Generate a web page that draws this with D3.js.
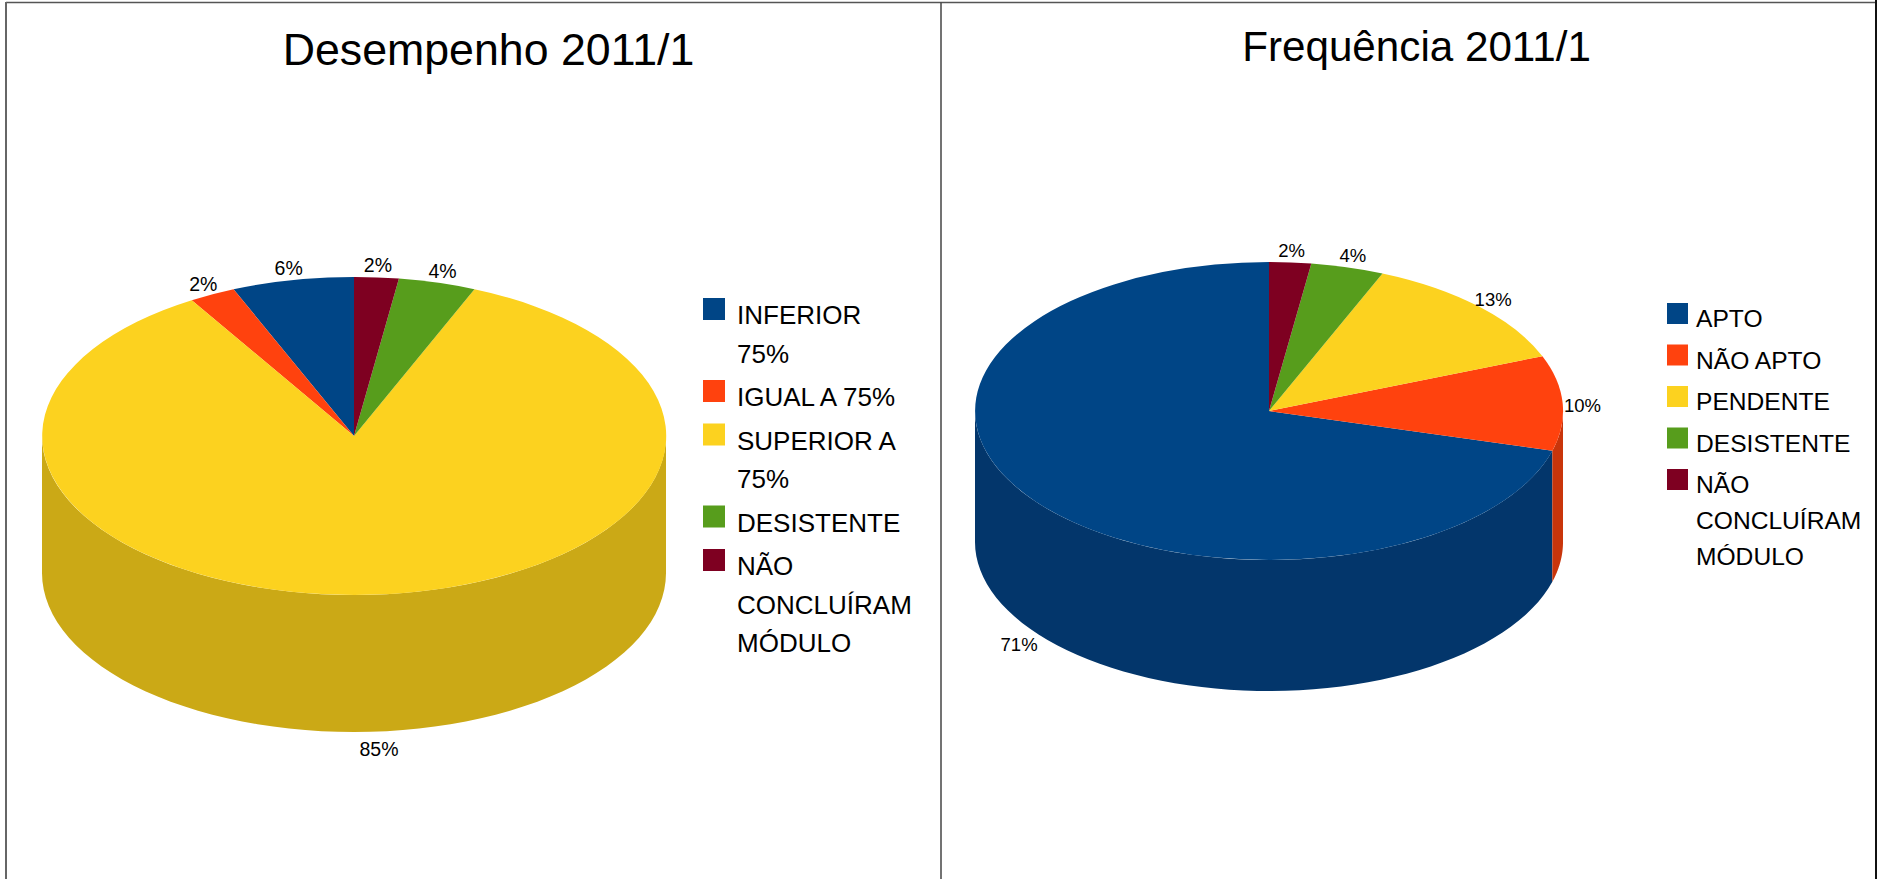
<!DOCTYPE html>
<html>
<head>
<meta charset="utf-8">
<script src="https://cdn.jsdelivr.net/npm/d3@7"></script>
<style>
  html, body { margin: 0; background: #fff; }
  svg { display: block; font-family: "Liberation Sans", Arial, sans-serif; fill: #000; }
</style>
</head>
<body>
<svg id="chart" width="1881" height="879"></svg>
<script>
// In legend order (LibreOffice draws them counter-clockwise from 12 o'clock)
const desempenhoCategories = ['INFERIOR 75%', 'IGUAL A 75%', 'SUPERIOR A 75%', 'DESISTENTE', 'NÃO CONCLUÍRAM MÓDULO'];
const desempenhoValues = [6.3, 2.4, 85, 4, 2.3];
const frequenciaCategories = ['APTO', 'NÃO APTO', 'PENDENTE', 'DESISTENTE', 'NÃO CONCLUÍRAM MÓDULO'];
const frequenciaValues = [70.7, 10.3, 12.7, 4, 2.3];

const topColors = ['#004586', '#ff420e', '#fcd21f', '#579d1c', '#7e0021'];
const sideColors = ['#03366b', '#c9350b', '#cba916', '#457d16', '#64001a'];

const svg = d3.select('#chart');

// frame around the two charts
const frameLines = [
    {x1: 6, y1: 2.5, x2: 1876, y2: 2.5, color: '#555', w: 1.5},
    {x1: 6, y1: 2, x2: 6, y2: 879, color: '#666', w: 2},
    {x1: 941, y1: 2.5, x2: 941, y2: 879, color: '#444', w: 1.5},
    {x1: 1876, y1: 0, x2: 1876, y2: 879, color: '#111', w: 2}
];
svg.selectAll('.frame')
    .data(frameLines)
    .enter().append('line')
    .attr('class', 'frame')
    .attr('x1', d => d.x1).attr('y1', d => d.y1)
    .attr('x2', d => d.x2).attr('y2', d => d.y2)
    .attr('stroke', d => d.color)
    .attr('stroke-width', d => d.w);

function drawPie(cfg) {
    const g = svg.append('g');
    const slices = d3.pie().sort(null).startAngle(0).endAngle(-2 * Math.PI)(cfg.values);

    g.append('text')
        .attr('x', cfg.titleX)
        .attr('y', cfg.titleY)
        .attr('text-anchor', 'middle')
        .style('font-size', cfg.titleSize + 'px')
        .text(cfg.title);

    // side wall, only the front half of the cylinder can be seen
    const px = a => cfg.cx + cfg.rx * Math.sin(a);
    const py = a => cfg.cy - cfg.ry * Math.cos(a);
    const wall = d3.line();
    slices.forEach((s, i) => {
        // angles run negative here, front half is -PI/2 to -3PI/2
        const from = Math.min(s.startAngle, -Math.PI / 2);
        const to = Math.max(s.endAngle, -3 * Math.PI / 2);
        if (from <= to) return;
        const steps = d3.range(0, 61).map(k => from + (to - from) * k / 60);
        const pts = steps.map(a => [px(a), py(a)])
            .concat(steps.slice().reverse().map(a => [px(a), py(a) + cfg.depth]));
        g.append('path')
            .attr('d', wall(pts) + 'Z')
            .attr('fill', sideColors[i]);
    });

    // top face: a unit arc squashed to the ellipse
    const arc = d3.arc().innerRadius(0).outerRadius(1);
    g.append('g')
        .attr('transform', `translate(${cfg.cx},${cfg.cy}) scale(${cfg.rx},${cfg.ry})`)
        .selectAll('path')
        .data(slices)
        .enter().append('path')
        .attr('d', arc)
        .attr('fill', (d, i) => topColors[i]);

    // percentage labels outside the rim
    g.selectAll('.pct')
        .data(slices)
        .enter().append('text')
        .attr('class', 'pct')
        .attr('text-anchor', 'middle')
        .attr('dy', '0.35em')
        .attr('x', d => {
            const mid = (d.startAngle + d.endAngle) / 2;
            return cfg.cx + (cfg.rx + 20) * Math.sin(mid);
        })
        .attr('y', d => {
            const mid = (d.startAngle + d.endAngle) / 2;
            const front = Math.cos(mid) < 0;
            return cfg.cy + 3 - (cfg.ry + 15) * Math.cos(mid) + (front ? cfg.depth : 0);
        })
        .style('font-size', cfg.labelSize + 'px')
        .text(d => Math.round(d.value) + '%');

    // legend, the long names wrap as in the original
    let y = cfg.legendY;
    cfg.legendLines.forEach((lines, i) => {
        g.append('rect')
            .attr('x', cfg.legendX)
            .attr('y', y - cfg.swatchDrop)
            .attr('width', cfg.swatch)
            .attr('height', cfg.swatch)
            .attr('fill', topColors[i]);
        lines.forEach((line, j) => {
            g.append('text')
                .attr('x', cfg.legendX + cfg.textGap)
                .attr('y', y + j * cfg.lineHeight)
                .style('font-size', cfg.legendSize + 'px')
                .text(line);
        });
        y += (lines.length - 1) * cfg.lineHeight + cfg.itemGap;
    });
}

drawPie({
    title: 'Desempenho 2011/1', titleX: 488.5, titleY: 65, titleSize: 44.7,
    values: desempenhoValues,
    cx: 354, cy: 436, rx: 312, ry: 159, depth: 137,
    labelSize: 19.5,
    legendX: 703, legendY: 324, swatch: 22, swatchDrop: 26, textGap: 34,
    legendSize: 26, lineHeight: 38.5, itemGap: 43.5,
    legendLines: [['INFERIOR', '75%'], ['IGUAL A 75%'], ['SUPERIOR A', '75%'], ['DESISTENTE'], ['NÃO', 'CONCLUÍRAM', 'MÓDULO']]
});

drawPie({
    title: 'Frequência 2011/1', titleX: 1416.5, titleY: 61, titleSize: 42.2,
    values: frequenciaValues,
    cx: 1269, cy: 411, rx: 294, ry: 149, depth: 131,
    labelSize: 18.5,
    legendX: 1667, legendY: 327, swatch: 21, swatchDrop: 24, textGap: 29,
    legendSize: 24.6, lineHeight: 36, itemGap: 41.5,
    legendLines: [['APTO'], ['NÃO APTO'], ['PENDENTE'], ['DESISTENTE'], ['NÃO', 'CONCLUÍRAM', 'MÓDULO']]
});
</script>
</body>
</html>
